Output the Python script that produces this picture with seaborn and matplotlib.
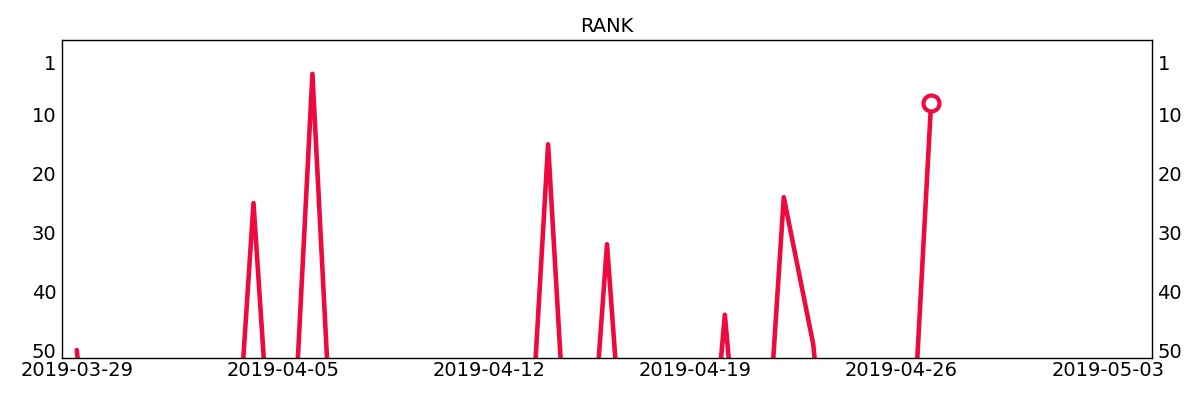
import pandas as pd
import seaborn as sns
import matplotlib.pyplot as plt
import matplotlib.dates as mdates

# 일별 순위 (101 = 순위권 밖)
dates = pd.date_range("2019-03-29", "2019-04-27", freq="D")
ranks = [50, 101, 101, 101, 101, 101, 25, 101, 3, 101,
         101, 101, 101, 101, 101, 101, 15, 101, 32, 101,
         101, 101, 44, 101, 24, 49, 101, 101, 101, 8]
x_ticks = pd.date_range("2019-03-29", "2019-05-03", freq="7D")
y_ticks = [1, 10, 20, 30, 40, 50]
line_color = "#EE0A3F"

df = pd.DataFrame({"date": dates, "rank": ranks})

sns.set_style("white")
plt.rcParams["text.color"] = "black"
fig = plt.figure(figsize=(12, 4), dpi=100)
ax = fig.add_axes([0.0517, 0.105, 0.9083, 0.795])

sns.lineplot(data=df, x="date", y="rank", ax=ax, color=line_color, linewidth=3.3)
# 마지막 순위 표시
ax.plot(df["date"].iloc[-1], df["rank"].iloc[-1], marker="o", markersize=11.5,
        markerfacecolor="white", markeredgecolor=line_color, markeredgewidth=3)

ax.set_xlim(pd.Timestamp("2019-03-28 12:00"), pd.Timestamp("2019-05-04 12:00"))
ax.set_ylim(51.36, -2.75)
ax.set_yticks(y_ticks)
ax.set_xticks(x_ticks)
ax.xaxis.set_major_formatter(mdates.DateFormatter("%Y-%m-%d"))

ax.tick_params(axis="x", direction="in", length=4, width=0.8, labelsize=14, pad=2,
               colors="black")
ax.tick_params(axis="y", length=0, labelsize=14, labelleft=True, labelright=True, pad=4,
               colors="black")
for s in ax.spines.values():
    s.set_color("black")
    s.set_linewidth(1)
ax.set_xlabel("")
ax.set_ylabel("")
ax.set_title("RANK", fontsize=14, color="black")

fig.savefig("out.png", dpi=100)
